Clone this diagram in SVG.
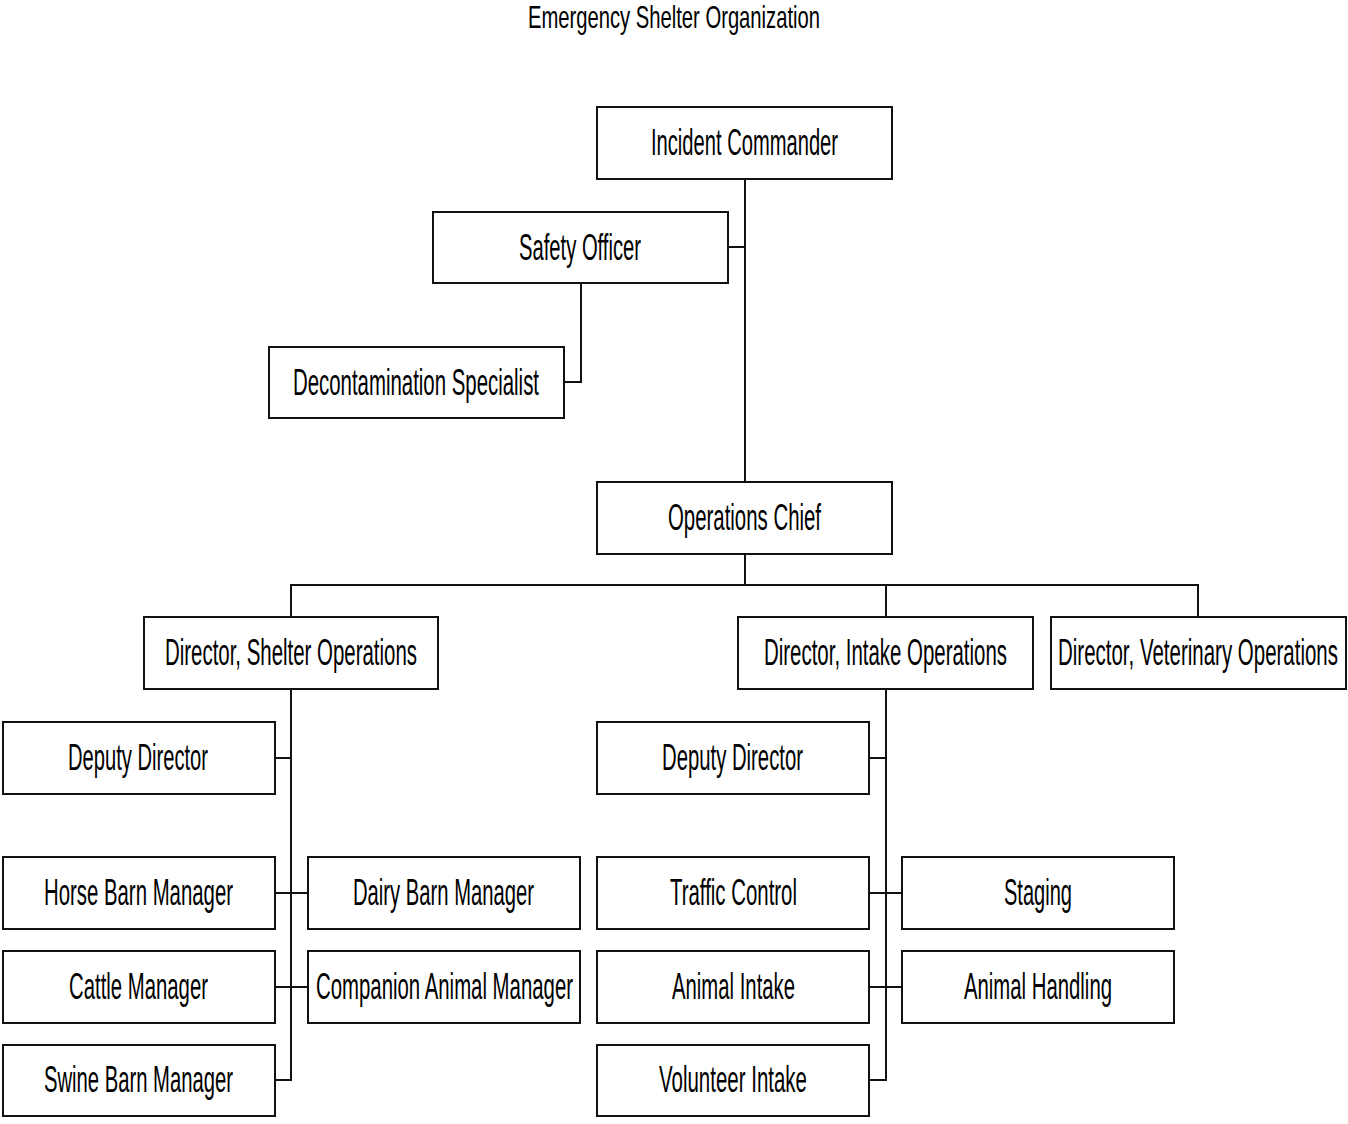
<svg xmlns="http://www.w3.org/2000/svg" width="1348" height="1124" viewBox="0 0 1348 1124">
<style>
.box{fill:#ffffff;stroke:#111;stroke-width:2}
.t{font-family:"Liberation Sans",Arial,sans-serif;font-size:36px;fill:#000;text-anchor:middle}
.ttl{font-family:"Liberation Sans",Arial,sans-serif;font-size:32px;fill:#000;text-anchor:middle}
.c{fill:none;stroke:#111;stroke-width:2}
</style>
<rect width="1348" height="1124" fill="#ffffff"/>
<text class="ttl" x="674" y="28" textLength="292" lengthAdjust="spacingAndGlyphs">Emergency Shelter Organization</text>
<g id="connectors">
<path class="c" d="M745 179V482"/>
<path class="c" d="M728 247H745"/>
<path class="c" d="M581 283V382H564"/>
<path class="c" d="M745 554V585M291 617V585H1198V617M886 585V617"/>
<path class="c" d="M291 689V1080H275M275 758H291M275 893H308M275 987H308"/>
<path class="c" d="M886 689V1080H869M869 758H886M869 893H902M869 987H902"/>
</g>
<g id="incident-commander"><rect class="box" x="597" y="107" width="295" height="72"/><text class="t" x="744.5" y="155" textLength="187" lengthAdjust="spacingAndGlyphs">Incident Commander</text></g>
<g id="safety-officer"><rect class="box" x="433" y="212" width="295" height="71"/><text class="t" x="580" y="260" textLength="122" lengthAdjust="spacingAndGlyphs">Safety Officer</text></g>
<g id="decon-specialist"><rect class="box" x="269" y="347" width="295" height="71"/><text class="t" x="416" y="395" textLength="246" lengthAdjust="spacingAndGlyphs">Decontamination Specialist</text></g>
<g id="operations-chief"><rect class="box" x="597" y="482" width="295" height="72"/><text class="t" x="744.5" y="530" textLength="153" lengthAdjust="spacingAndGlyphs">Operations Chief</text></g>
<g id="dir-shelter"><rect class="box" x="144" y="617" width="294" height="72"/><text class="t" x="291" y="665" textLength="252" lengthAdjust="spacingAndGlyphs">Director, Shelter Operations</text></g>
<g id="dir-intake"><rect class="box" x="738" y="617" width="295" height="72"/><text class="t" x="885.5" y="665" textLength="243" lengthAdjust="spacingAndGlyphs">Director, Intake Operations</text></g>
<g id="dir-vet"><rect class="box" x="1051" y="617" width="295" height="72"/><text class="t" x="1198" y="665" textLength="280" lengthAdjust="spacingAndGlyphs">Director, Veterinary Operations</text></g>
<g id="deputy-left"><rect class="box" x="3" y="722" width="272" height="72"/><text class="t" x="138" y="770" textLength="140" lengthAdjust="spacingAndGlyphs">Deputy Director</text></g>
<g id="horse-barn"><rect class="box" x="3" y="857" width="272" height="72"/><text class="t" x="138.5" y="905" textLength="189" lengthAdjust="spacingAndGlyphs">Horse Barn Manager</text></g>
<g id="cattle"><rect class="box" x="3" y="951" width="272" height="72"/><text class="t" x="138.5" y="999" textLength="139" lengthAdjust="spacingAndGlyphs">Cattle Manager</text></g>
<g id="swine-barn"><rect class="box" x="3" y="1045" width="272" height="71"/><text class="t" x="138.5" y="1092" textLength="189" lengthAdjust="spacingAndGlyphs">Swine Barn Manager</text></g>
<g id="dairy-barn"><rect class="box" x="308" y="857" width="272" height="72"/><text class="t" x="443.5" y="905" textLength="181" lengthAdjust="spacingAndGlyphs">Dairy Barn Manager</text></g>
<g id="companion"><rect class="box" x="308" y="951" width="272" height="72"/><text class="t" x="444.5" y="999" textLength="257" lengthAdjust="spacingAndGlyphs">Companion Animal Manager</text></g>
<g id="deputy-right"><rect class="box" x="597" y="722" width="272" height="72"/><text class="t" x="732.5" y="770" textLength="141" lengthAdjust="spacingAndGlyphs">Deputy Director</text></g>
<g id="traffic"><rect class="box" x="597" y="857" width="272" height="72"/><text class="t" x="733.5" y="905" textLength="127" lengthAdjust="spacingAndGlyphs">Traffic Control</text></g>
<g id="animal-intake"><rect class="box" x="597" y="951" width="272" height="72"/><text class="t" x="733.5" y="999" textLength="123" lengthAdjust="spacingAndGlyphs">Animal Intake</text></g>
<g id="volunteer-intake"><rect class="box" x="597" y="1045" width="272" height="71"/><text class="t" x="733" y="1092" textLength="148" lengthAdjust="spacingAndGlyphs">Volunteer Intake</text></g>
<g id="staging"><rect class="box" x="902" y="857" width="272" height="72"/><text class="t" x="1038" y="905" textLength="68" lengthAdjust="spacingAndGlyphs">Staging</text></g>
<g id="animal-handling"><rect class="box" x="902" y="951" width="272" height="72"/><text class="t" x="1038" y="999" textLength="148" lengthAdjust="spacingAndGlyphs">Animal Handling</text></g>
</svg>
